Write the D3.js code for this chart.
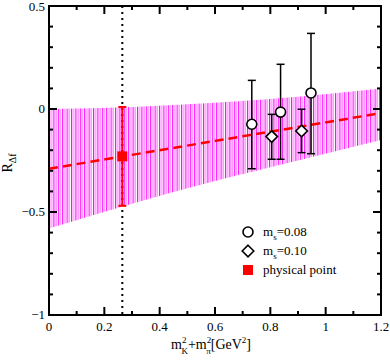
<!DOCTYPE html>
<html>
<head>
<meta charset="utf-8">
<script src="https://cdn.jsdelivr.net/npm/d3@7"></script>
<style>
  body { margin: 0; background: #fff; }
</style>
</head>
<body>
<div id="chart"></div>
<script>
// fit line and its error band
var fitX = [0, 1.2];
var fitY = [-0.29, -0.02];
var bandX = [0, 0.3, 0.6, 0.9, 1.2];
var bandLow = [-0.58, -0.46, -0.35, -0.25, -0.15];
var bandHigh = [0.0, 0.01, 0.03, 0.06, 0.10];

// lattice points, ms=0.08 (circles)
var ms08X = [0.733, 0.837, 0.947];
var ms08Y = [-0.074, -0.015, 0.078];
var ms08Err = [[-0.29, 0.139], [-0.244, 0.217], [-0.217, 0.367]];

// lattice points, ms=0.10 (diamonds)
var ms10X = [0.805, 0.913];
var ms10Y = [-0.134, -0.107];
var ms10Err = [[-0.244, -0.026], [-0.212, -0.001]];

// physical point
var physX = 0.265;
var physY = -0.23;
var physErr = [-0.47, 0.01];

var xTicks = [0, 0.2, 0.4, 0.6, 0.8, 1, 1.2];
var yTicks = [0.5, 0, -0.5, -1];

var margin = {top: 6, right: 9, bottom: 46, left: 49},
    width = 390 - margin.left - margin.right,
    height = 361 - margin.top - margin.bottom;

var svg = d3.select("#chart").append("svg")
    .attr("width", 390).attr("height", 361)
    .attr("font-family", "'Liberation Serif', 'Times New Roman', Times, serif")
  .append("g")
    .attr("transform", "translate(" + margin.left + "," + margin.top + ")");

var x = d3.scaleLinear().domain([0, 1.2]).range([0, width]);
var y = d3.scaleLinear().domain([-1, 0.5]).range([height, 0]);

// striped band pattern
var defs = svg.append("defs");
var pat = defs.append("pattern").attr("id", "stripes")
    .attr("patternUnits", "userSpaceOnUse")
    .attr("width", 4.4).attr("height", 10);
pat.append("rect").attr("x", 0).attr("y", 0).attr("width", 1.1).attr("height", 10).attr("fill", "#ff00ff");
pat.append("rect").attr("x", 2.2).attr("y", 0).attr("width", 1.1).attr("height", 10).attr("fill", "#ff77ff");

var bandData = bandX.map(function(d, i) { return {x: d, lo: bandLow[i], hi: bandHigh[i]}; });
svg.append("path").datum(bandData)
    .attr("d", d3.area()
        .x(function(d) { return x(d.x); })
        .y0(function(d) { return y(d.lo); })
        .y1(function(d) { return y(d.hi); })
        .curve(d3.curveMonotoneX))
    .attr("fill", "url(#stripes)");

// dotted vertical line at the physical point
svg.append("line")
    .attr("x1", x(physX)).attr("x2", x(physX))
    .attr("y1", 0).attr("y2", height)
    .attr("stroke", "#000").attr("stroke-width", 2)
    .attr("stroke-dasharray", "2,4");

// fit line
svg.append("line")
    .attr("x1", x(fitX[0])).attr("y1", y(fitY[0]))
    .attr("x2", x(fitX[1])).attr("y2", y(fitY[1]))
    .attr("stroke", "#ff0000").attr("stroke-width", 2.5)
    .attr("stroke-dasharray", "9,5");

function errorBar(px, lo, hi, color, w) {
    var g = svg.append("g").attr("stroke", color).attr("stroke-width", w);
    g.append("line").attr("x1", x(px)).attr("x2", x(px)).attr("y1", y(lo)).attr("y2", y(hi));
    g.append("line").attr("x1", x(px) - 4).attr("x2", x(px) + 4).attr("y1", y(lo)).attr("y2", y(lo));
    g.append("line").attr("x1", x(px) - 4).attr("x2", x(px) + 4).attr("y1", y(hi)).attr("y2", y(hi));
}

ms08X.forEach(function(d, i) { errorBar(d, ms08Err[i][0], ms08Err[i][1], "#000", 1.5); });
ms10X.forEach(function(d, i) { errorBar(d, ms10Err[i][0], ms10Err[i][1], "#000", 1.5); });

svg.selectAll(".circ").data(ms08X).enter().append("circle")
    .attr("cx", function(d) { return x(d); })
    .attr("cy", function(d, i) { return y(ms08Y[i]); })
    .attr("r", 5)
    .attr("fill", "#fff").attr("stroke", "#000").attr("stroke-width", 1.6);

var diamond = d3.symbol().type(d3.symbolDiamond2).size(85);
svg.selectAll(".diam").data(ms10X).enter().append("path")
    .attr("d", diamond)
    .attr("transform", function(d, i) { return "translate(" + x(d) + "," + y(ms10Y[i]) + ")"; })
    .attr("fill", "#fff").attr("stroke", "#000").attr("stroke-width", 1.6);

errorBar(physX, physErr[0], physErr[1], "#ff0000", 2);
svg.append("rect")
    .attr("x", x(physX) - 5).attr("y", y(physY) - 5)
    .attr("width", 10).attr("height", 10)
    .attr("fill", "#ff0000");

// frame
svg.append("rect").attr("width", width).attr("height", height)
    .attr("fill", "none").attr("stroke", "#000").attr("stroke-width", 2);

// ticks (inward, all four sides)
var xMinor = d3.range(0, 13).map(function(i) { return i / 10; });
var yMinor = d3.range(0, 16).map(function(i) { return -1 + i / 10; });
function tickLen(v, step) { return Math.abs(Math.round(v / step) * step - v) < 1e-6 ? 8 : 4; }

var tg = svg.append("g").attr("stroke", "#000").attr("stroke-width", 2);
xMinor.forEach(function(v) {
    var L = tickLen(v, 0.2);
    tg.append("line").attr("x1", x(v)).attr("x2", x(v)).attr("y1", height).attr("y2", height - L);
    tg.append("line").attr("x1", x(v)).attr("x2", x(v)).attr("y1", 0).attr("y2", L);
});
yMinor.forEach(function(v) {
    var L = tickLen(v, 0.5);
    tg.append("line").attr("y1", y(v)).attr("y2", y(v)).attr("x1", 0).attr("x2", L);
    tg.append("line").attr("y1", y(v)).attr("y2", y(v)).attr("x1", width).attr("x2", width - L);
});

// tick labels
svg.selectAll(".xt").data(xTicks).enter().append("text")
    .attr("x", function(d) { return x(d); })
    .attr("y", height + 16)
    .attr("text-anchor", "middle")
    .attr("font-size", 13)
    .text(function(d) { return d3.format("")(d); });

svg.selectAll(".yt").data(yTicks).enter().append("text")
    .attr("x", -4)
    .attr("y", function(d) { return Math.max(y(d) + 4, 5); })
    .attr("text-anchor", "end")
    .attr("font-size", 13)
    .text(function(d) { return d3.format("")(d); });

// axis titles
var xl = svg.append("text")
    .attr("x", width / 2 - 4).attr("y", height + 34)
    .attr("text-anchor", "middle")
    .attr("font-size", 14);
xl.append("tspan").text("m");
xl.append("tspan").attr("font-size", 9).attr("dy", -6).text("2");
xl.append("tspan").attr("font-size", 9).attr("dx", -5).attr("dy", 11).text("K");
xl.append("tspan").attr("dy", -5).text("+m");
xl.append("tspan").attr("font-size", 9).attr("dy", -6).text("2");
xl.append("tspan").attr("font-size", 9).attr("dx", -5).attr("dy", 11).text("\u03c0");
xl.append("tspan").attr("dy", -5).text("[GeV");
xl.append("tspan").attr("font-size", 9).attr("dy", -6).text("2");
xl.append("tspan").attr("dy", 6).text("]");

var yl = svg.append("text")
    .attr("transform", "translate(" + (-37) + "," + (y(-0.25) + 12) + ") rotate(-90)")
    .attr("font-size", 14);
yl.append("tspan").text("R");
yl.append("tspan").attr("font-size", 10).attr("dy", 4).text("\u0394f");

// legend
var legX = 199, legY = 226;
var leg = svg.append("g");
leg.append("circle").attr("cx", legX).attr("cy", legY).attr("r", 5)
    .attr("fill", "#fff").attr("stroke", "#000").attr("stroke-width", 1.6);
leg.append("path").attr("d", diamond)
    .attr("transform", "translate(" + legX + "," + (legY + 19) + ")")
    .attr("fill", "#fff").attr("stroke", "#000").attr("stroke-width", 1.6);
leg.append("rect").attr("x", legX - 5).attr("y", legY + 38 - 5)
    .attr("width", 10).attr("height", 10).attr("fill", "#ff0000");

var legLabels = [["m", "s", "=0.08"], ["m", "s", "=0.10"]];
legLabels.forEach(function(l, i) {
    var t = leg.append("text").attr("x", legX + 15).attr("y", legY + 4 + i * 19).attr("font-size", 13);
    t.append("tspan").text(l[0]);
    t.append("tspan").attr("font-size", 9).attr("dy", 4).text(l[1]);
    t.append("tspan").attr("dy", -4).text(l[2]);
});
leg.append("text").attr("x", legX + 15).attr("y", legY + 42).attr("font-size", 13).text("physical point");
</script>
</body>
</html>
